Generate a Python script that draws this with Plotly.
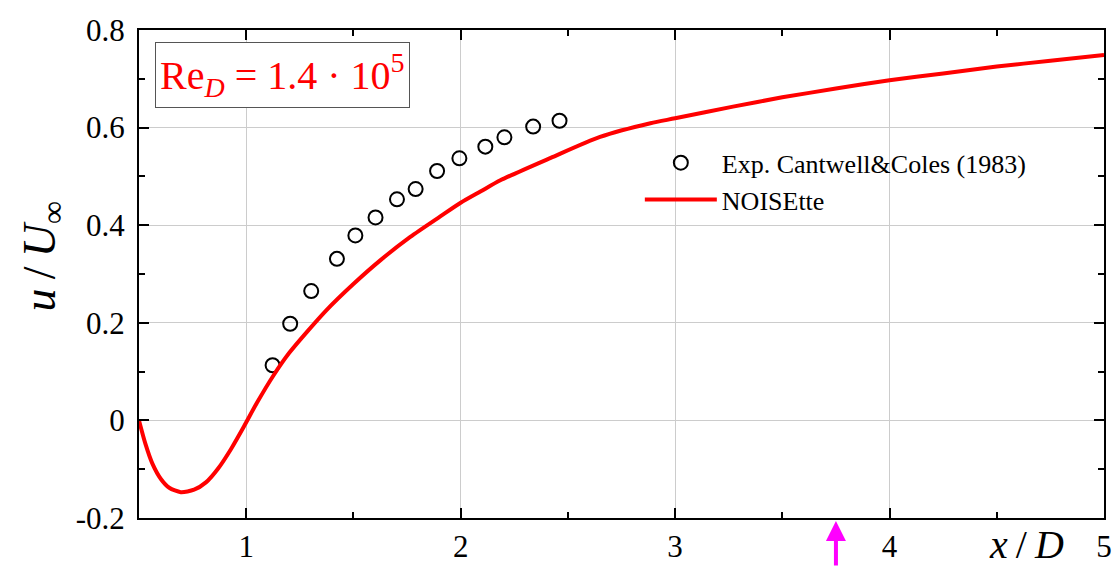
import plotly.graph_objects as go

# Experimental data (Cantwell & Coles 1983)
exp_x = [1.123, 1.205, 1.303, 1.423, 1.509, 1.603, 1.703, 1.790, 1.890, 1.994, 2.115, 2.204, 2.338, 2.461]
exp_y = [0.113, 0.198, 0.265, 0.331, 0.379, 0.416, 0.453, 0.474, 0.511, 0.537, 0.561, 0.580, 0.602, 0.614]

# NOISEtte simulation
sim_x = [0.50, 0.53, 0.563, 0.602, 0.641, 0.695, 0.757, 0.812, 0.87, 0.93, 0.99, 1.05,
         1.127, 1.20, 1.37, 1.501, 1.625, 1.765, 1.905, 2.00, 2.092, 2.185, 2.42,
         2.65, 2.885, 3.00, 3.27, 3.50, 3.75, 4.00, 4.25, 4.50, 4.75, 5.00]
sim_y = [0.000, -0.048, -0.089, -0.120, -0.138, -0.147, -0.142, -0.127, -0.098, -0.058, -0.012, 0.036,
         0.092, 0.138, 0.224, 0.280, 0.328, 0.376, 0.418, 0.446, 0.469, 0.492, 0.538,
         0.581, 0.609, 0.619, 0.643, 0.662, 0.680, 0.697, 0.711, 0.725, 0.737, 0.749]

x_tickvals = [1, 2, 3, 4, 5]
x_ticktext = ["1", "2", "3", "4", "5"]
y_tickvals = [-0.2, 0, 0.2, 0.4, 0.6, 0.8]
y_ticktext = ["-0.2", "0", "0.2", "0.4", "0.6", "0.8"]

arrow_x = 3.75

SERIF = "Liberation Serif"

fig = go.Figure()
fig.add_trace(go.Scatter(
    x=exp_x, y=exp_y, mode="markers", name="Exp. Cantwell&Coles (1983)", legendgroup="a",
    marker=dict(symbol="circle-open", size=14, color="black", line=dict(width=2, color="black")),
))
fig.add_trace(go.Scatter(
    x=sim_x, y=sim_y, mode="lines", name="NOISEtte", legendgroup="b",
    line=dict(color="#ff0000", width=4, shape="spline", smoothing=0.7),
))

axis_common = dict(
    showline=True, linecolor="black", linewidth=2, mirror="ticks",
    ticks="inside", ticklen=10, tickwidth=2, tickcolor="black",
    showgrid=True, gridcolor="#cccccc", gridwidth=1, zeroline=False,
    tickfont=dict(family=SERIF, size=31, color="black"),
    automargin=False,
)

fig.update_xaxes(
    range=[0.5, 5], tickmode="array", tickvals=x_tickvals, ticktext=x_ticktext,
    minor=dict(ticks="inside", ticklen=6, tickwidth=2, tickcolor="black", dtick=0.5, tick0=0.5, showgrid=False),
    **axis_common,
)
fig.update_yaxes(
    range=[-0.2, 0.8], tickmode="array", tickvals=y_tickvals, ticktext=y_ticktext,
    minor=dict(ticks="inside", ticklen=6, tickwidth=2, tickcolor="black", dtick=0.1, tick0=0, showgrid=False),
    ticklabelstandoff=6,
    **axis_common,
)

fig.add_annotation(
    xref="paper", yref="paper", x=0.0166, y=0.975, xanchor="left", yanchor="top",
    text="Re<sub><i>D</i></sub> = 1.4 · 10<sup>5</sup>", showarrow=False,
    font=dict(family=SERIF, size=40, color="#ff0000"),
    bordercolor="#555555", borderwidth=1, borderpad=4, bgcolor="white",
)
fig.add_annotation(
    xref="paper", yref="paper", x=-0.100, y=0.535, xanchor="center", yanchor="middle",
    text="<i>u</i>\u2009/\u2009<i>U</i><sub>∞</sub>", textangle=-90, showarrow=False,
    font=dict(family=SERIF, size=46, color="black"),
)
fig.add_annotation(
    xref="x", yref="paper", x=4.64, y=-0.055, xanchor="center", yanchor="middle",
    text="<i>x</i>\u2009/\u2009<i>D</i>", showarrow=False,
    font=dict(family=SERIF, size=40, color="black"),
)
fig.add_annotation(
    xref="x", yref="paper", x=arrow_x, y=-0.006, ax=0, ay=48, axref="pixel", ayref="pixel",
    text="", showarrow=True, arrowhead=2, arrowsize=1.0, arrowwidth=4, arrowcolor="#ff00ff",
)

fig.update_layout(
    width=1117, height=567,
    margin=dict(l=139, r=13, t=30, b=49),
    plot_bgcolor="white", paper_bgcolor="white",
    showlegend=True,
    legend=dict(
        x=0.519, y=0.776, xanchor="left", yanchor="top",
        bgcolor="rgba(0,0,0,0)", font=dict(family=SERIF, size=26, color="black"),
        itemwidth=72, tracegroupgap=0,
    ),
)

fig.write_html(
    "out.html",
    config={"displayModeBar": False},
    post_script="document.body.style.margin='0';document.body.style.overflow='hidden';",
)
